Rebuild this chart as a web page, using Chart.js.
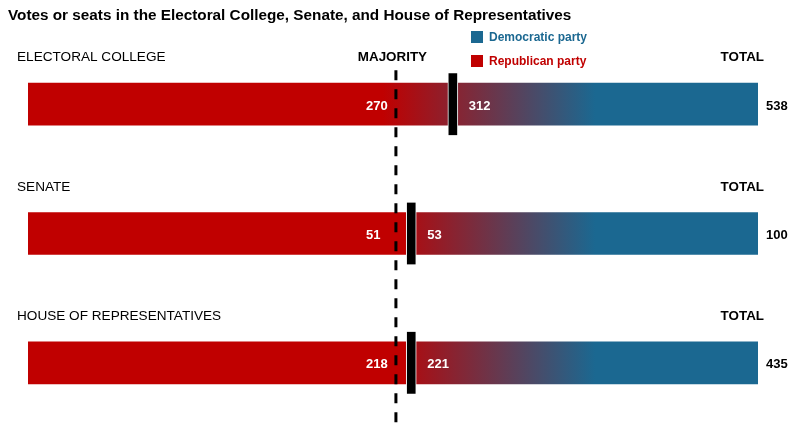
<!DOCTYPE html>
<html>
<head>
<meta charset="utf-8">
<script src="https://cdn.jsdelivr.net/npm/chart.js@4/dist/chart.umd.min.js"></script>
<style>
  html, body { margin: 0; padding: 0; background: #ffffff; }
  #wrap { width: 800px; height: 438px; position: relative; }
</style>
</head>
<body>
<div id="wrap"><canvas id="c" width="800" height="438"></canvas></div>
<script>
// ---- data ----
const chartTitle = 'Votes or seats in the Electoral College, Senate, and House of Representatives';
const categories = ['ELECTORAL COLLEGE', 'SENATE', 'HOUSE OF REPRESENTATIVES'];
const majorityLabels = ['270', '51', '218'];
const republicanLabels = ['312', '53', '221'];
const totalLabels = ['538', '100', '435'];
// shares (percent of each bar's total) as drawn in the picture
const majorityShare = 50.4;               // dashed "MAJORITY" line
const markerShare = [58.2, 52.5, 52.5];   // black marker / split point
const fadeFrom = 48.6;                    // gradient red -> blue
const fadeTo = 77.7;
const totalShare = [100, 100, 100];

const RED = '#C00000';
const BLUE = '#1B6891';
const FONT = '"Liberation Sans", Arial, sans-serif';

function fade(ctx) {
  const chart = ctx.chart;
  const xs = chart.scales && chart.scales.x;
  if (!chart.chartArea || !xs) return RED;
  const g = chart.ctx.createLinearGradient(xs.getPixelForValue(fadeFrom), 0, xs.getPixelForValue(fadeTo), 0);
  g.addColorStop(0, RED);
  g.addColorStop(1, BLUE);
  return g;
}

const overlay = {
  id: 'overlay',
  afterDatasetsDraw(chart) {
    const c = chart.ctx, xs = chart.scales.x, ys = chart.scales.y;
    const mx = xs.getPixelForValue(majorityShare);
    c.save();
    c.strokeStyle = '#000';
    c.lineWidth = 3;
    c.setLineDash([10, 9]);
    c.beginPath();
    c.moveTo(mx, ys.getPixelForValue(0) - 34);
    c.lineTo(mx, chart.chartArea.bottom);
    c.stroke();
    c.restore();
  },
  afterDraw(chart) {
    const c = chart.ctx, xs = chart.scales.x, ys = chart.scales.y;
    const mx = xs.getPixelForValue(majorityShare);
    c.save();
    // title
    c.fillStyle = '#000';
    c.textAlign = 'left';
    c.textBaseline = 'alphabetic';
    c.font = 'bold 15.3px ' + FONT;
    c.fillText(chartTitle, 8, 19.5);
    // legend
    const lx = 471;
    [['Democratic party', BLUE, 37], ['Republican party', RED, 61]].forEach(([t, col, cy]) => {
      c.fillStyle = col;
      c.fillRect(lx, cy - 6, 12, 12);
      c.font = 'bold 12px ' + FONT;
      c.fillText(t, lx + 18, cy + 4);
    });
    categories.forEach((name, i) => {
      const cy = ys.getPixelForValue(i);
      const hy = cy - 48 + 5;
      c.fillStyle = '#000';
      c.font = '13.6px ' + FONT;
      c.textAlign = 'left';
      c.fillText(name, 17, hy);
      c.font = 'bold 13.4px ' + FONT;
      c.textAlign = 'right';
      c.fillText('TOTAL', 764, hy);
      if (i === 0) {
        c.textAlign = 'center';
        c.fillText('MAJORITY', mx - 3.5, hy);
      }
      // values
      c.font = 'bold 13px ' + FONT;
      c.textAlign = 'left';
      c.fillStyle = '#fff';
      c.fillText(majorityLabels[i], mx - 30, cy + 5.5);
      c.fillText(republicanLabels[i], xs.getPixelForValue(markerShare[i]) + 16, cy + 5.5);
      c.fillStyle = '#000';
      c.fillText(totalLabels[i], xs.getPixelForValue(totalShare[i]) + 8, cy + 5.5);
    });
    c.restore();
  }
};

const markerHalf = 0.685; // half of marker width incl. white edge, in share units

new Chart(document.getElementById('c'), {
  type: 'bar',
  data: {
    labels: categories,
    datasets: [
      {
        label: 'marker',
        data: markerShare.map(m => [m - markerHalf, m + markerHalf]),
        backgroundColor: '#000',
        borderColor: '#fff',
        borderWidth: { left: 1, right: 1, top: 0, bottom: 0 },
        borderSkipped: false,
        barThickness: 62,
        grouped: false,
        order: 0
      },
      {
        label: 'Republican',
        data: markerShare.map(m => [0, m]),
        backgroundColor: (ctx) => ctx.dataIndex === 0 ? fade(ctx) : RED,
        borderWidth: 0,
        barThickness: 42,
        grouped: false,
        order: 2
      },
      {
        label: 'Democratic',
        data: markerShare.map((m, i) => [m, totalShare[i]]),
        backgroundColor: fade,
        borderWidth: 0,
        barThickness: 42,
        grouped: false,
        order: 1
      }
    ]
  },
  options: {
    indexAxis: 'y',
    responsive: false,
    animation: false,
    devicePixelRatio: 1,
    layout: { padding: { left: 28, right: 42, top: 39.5, bottom: 10.5 } },
    scales: {
      x: { type: 'linear', min: 0, max: 100, display: false },
      y: { type: 'category', display: false, offset: true }
    },
    plugins: {
      legend: { display: false },
      tooltip: { enabled: false },
      title: { display: false }
    }
  },
  plugins: [overlay]
});
</script>
</body>
</html>
